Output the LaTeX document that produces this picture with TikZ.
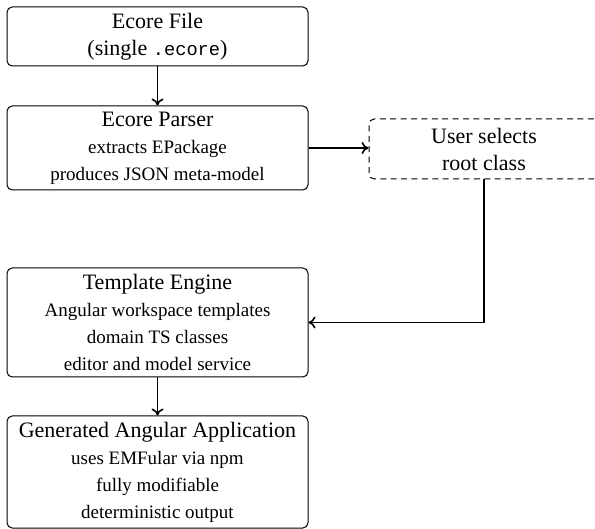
\documentclass[tikz,border=0pt]{standalone}
\usepackage{fontspec}
\setmainfont{Liberation Serif}
\setmonofont[Scale=0.85]{Liberation Mono}
\usetikzlibrary{arrows.meta}
\newcommand{\ttl}[1]{{\fontsize{11}{13.5}\selectfont #1}}
\begin{document}
\begin{tikzpicture}[x=0.5pt,y=-0.5pt,
  box/.style={draw, rounded corners=2.6pt, line width=0.5pt, minimum width=150.5pt, align=center,
    inner sep=0pt, font=\fontsize{9.5}{13.5}\selectfont},
  dbox/.style={box, dash pattern=on 3pt off 2.2pt, minimum width=115pt, minimum height=30pt},
  conn/.style={line width=0.8pt, -{To[length=3.5pt,width=6pt]}}]
\useasboundingbox (0,0) rectangle (595,529);
\node[box, minimum height=29.5pt] (ef) at (157.5,36.5) {\ttl{Ecore File}\\\ttl{(single \texttt{.ecore})}};
\node[box, minimum height=42pt] (ep) at (157.5,148) {\ttl{Ecore Parser}\\extracts EPackage\\produces JSON meta-model};
\node[dbox] (us) at (484,149) {\ttl{User selects}\\\ttl{root class}};
\node[box, minimum height=54.5pt] (te) at (157.5,322.5) {\ttl{Template Engine}\\Angular workspace templates\\domain TS classes\\editor and model service};
\node[box, minimum height=56pt] (ga) at (157.5,472) {\ttl{Generated Angular Application}\\uses EMFular via npm\\fully modifiable\\deterministic output};
\draw[conn] (ef) -- (ep);
\draw[conn] (ep.east) -- (ep.east -| us.west);
\draw[conn] (us.south) |- (te.east);
\draw[conn] (te) -- (ga);
\end{tikzpicture}
\end{document}
